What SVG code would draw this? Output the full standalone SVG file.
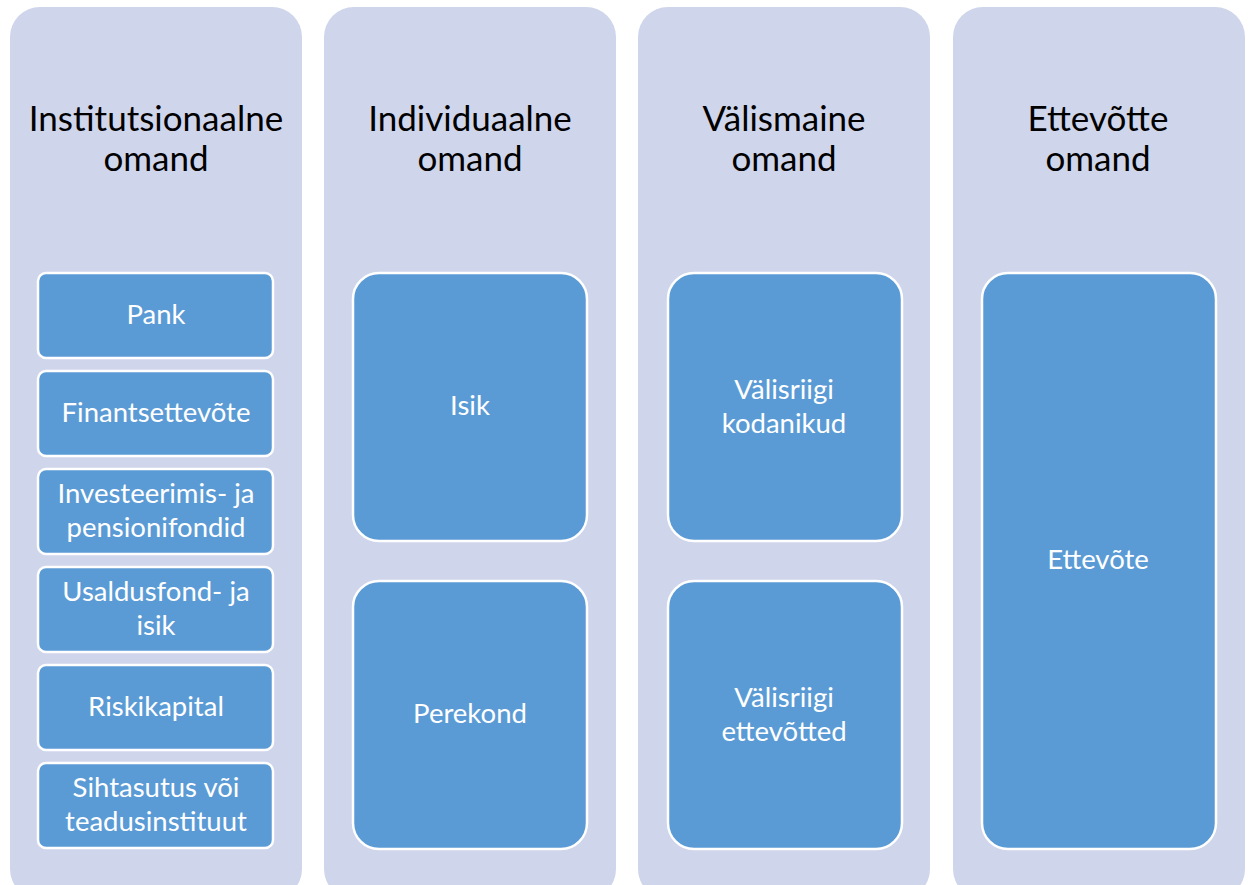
<svg xmlns="http://www.w3.org/2000/svg" width="1251" height="885" viewBox="0 0 1251 885">
<style>
.col{fill:#CFD5EA}
.box{fill:#5B9BD5;stroke:#FFFFFF;stroke-width:2.5}
.t{font-family:Lato,"Open Sans","Liberation Sans",sans-serif;font-size:35px;fill:#000;text-anchor:middle}
.w{font-family:Lato,"Open Sans","Liberation Sans",sans-serif;font-size:27.5px;fill:#FFFFFF;text-anchor:middle}
</style>
<rect width="1251" height="885" fill="#FFFFFF"/>
<g id="col-institutsionaalne">
<rect class="col" x="10" y="7" width="292" height="892" rx="30"/>
<text class="t" x="156" y="131">Institutsionaalne</text>
<text class="t" x="156" y="171">omand</text>
</g>
<g id="col-individuaalne">
<rect class="col" x="324" y="7" width="292" height="892" rx="30"/>
<text class="t" x="470" y="131">Individuaalne</text>
<text class="t" x="470" y="171">omand</text>
</g>
<g id="col-valismaine">
<rect class="col" x="638" y="7" width="292" height="892" rx="30"/>
<text class="t" x="784" y="131">Välismaine</text>
<text class="t" x="784" y="171">omand</text>
</g>
<g id="col-ettevotte">
<rect class="col" x="953" y="7" width="292" height="892" rx="30"/>
<text class="t" x="1098" y="131">Ettevõtte</text>
<text class="t" x="1098" y="171">omand</text>
</g>
<g id="pank"><rect class="box" x="38" y="273" width="235" height="85" rx="8"/><text class="w" x="156" y="324">Pank</text></g>
<g id="finantsettevote"><rect class="box" x="38" y="371" width="235" height="85" rx="8"/><text class="w" x="156" y="422">Finantsettevõte</text></g>
<g id="investeerimis"><rect class="box" x="38" y="469" width="235" height="85" rx="8"/><text class="w" x="156" y="503">Investeerimis- ja</text><text class="w" x="156" y="537">pensionifondid</text></g>
<g id="usaldusfond"><rect class="box" x="38" y="567" width="235" height="85" rx="8"/><text class="w" x="156" y="601">Usaldusfond- ja</text><text class="w" x="156" y="635">isik</text></g>
<g id="riskikapital"><rect class="box" x="38" y="665" width="235" height="85" rx="8"/><text class="w" x="156" y="716">Riskikapital</text></g>
<g id="sihtasutus"><rect class="box" x="38" y="763" width="235" height="85" rx="8"/><text class="w" x="156" y="797">Sihtasutus või</text><text class="w" x="156" y="831">teadusinstituut</text></g>
<g id="isik"><rect class="box" x="353" y="273" width="234" height="268" rx="26"/><text class="w" x="470" y="415">Isik</text></g>
<g id="perekond"><rect class="box" x="353" y="581" width="234" height="268" rx="26"/><text class="w" x="470" y="723">Perekond</text></g>
<g id="valisriigi-kodanikud"><rect class="box" x="668" y="273" width="234" height="268" rx="26"/><text class="w" x="784" y="399">Välisriigi</text><text class="w" x="784" y="433">kodanikud</text></g>
<g id="valisriigi-ettevotted"><rect class="box" x="668" y="581" width="234" height="268" rx="26"/><text class="w" x="784" y="707">Välisriigi</text><text class="w" x="784" y="741">ettevõtted</text></g>
<g id="ettevote"><rect class="box" x="982" y="273" width="234" height="576" rx="26"/><text class="w" x="1098" y="569">Ettevõte</text></g>
<g id="connectors"></g>
</svg>
